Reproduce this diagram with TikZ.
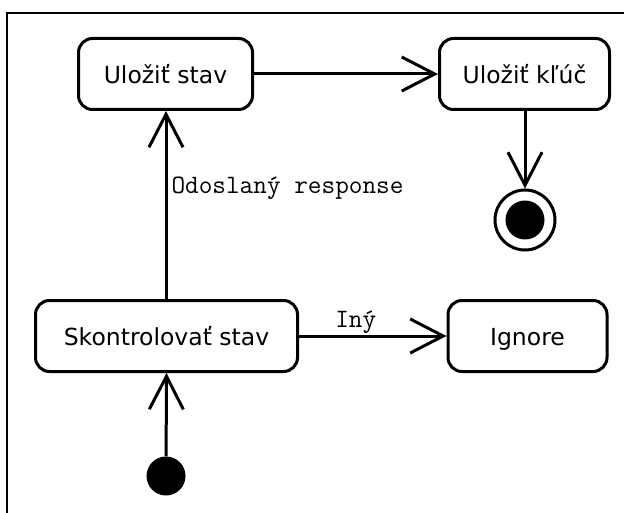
\documentclass[tikz,border=0pt]{standalone}
\usepackage{fontspec}
\setmainfont{DejaVu Sans}
\usetikzlibrary{arrows.meta}

\tikzset{
  state/.style={draw, line width=3pt, rounded corners=14pt, inner sep=0pt,
    minimum height=71pt, text height=19pt, text depth=0pt,
    font=\fontsize{23.5}{26}\selectfont, align=center},
  flow/.style={line width=3pt,
    -{Straight Barb[length=33pt, width=34pt, line width=3pt]}},
  guard/.style={font=\ttfamily\fontsize{26.5}{28}\selectfont, inner sep=0pt},
  startdot/.style={circle, fill=black, inner sep=0pt, minimum size=39pt},
  endring/.style={circle, draw, line width=3pt, inner sep=0pt, minimum size=60pt},
  enddot/.style={circle, fill=black, inner sep=0pt, minimum size=39pt},
}

\begin{document}
\begin{tikzpicture}[x=1pt, y=-1pt]
  \useasboundingbox[fill=white] (0,0) rectangle (624,513);

  % outer frame
  \draw[line width=2pt] (7,513) -- (7,13) -- (624,13);

  % states
  \node[state, minimum width=174pt] (save)   at (165.5,74)  {Uložiť stav};
  \node[state, minimum width=170pt] (key)    at (524.5,74)  {Uložiť kľúč};
  \node[state, minimum width=262pt] (check)  at (166.5,336) {Skontrolovať stav};
  \node[state, minimum width=159pt] (ignore) at (527.5,336) {Ignore};

  % pseudo states
  \node[startdot] (init) at (166,476) {};
  \node[endring] (final) at (525,220) {};
  \node[enddot] (finaldot) at (525,220) {};

  % transitions
  \draw[flow] (init) -- (check.south);
  \draw[flow] (check.north -| init) -- node[guard, pos=0.56, anchor=base west, xshift=4pt] {Odoslaný response} (save.south -| init);
  \draw[flow] (check.east) -- node[guard, pos=0.385, anchor=base, yshift=9pt] {Iný} (ignore.west);
  \draw[flow] (save.east) -- (key.west);
  \draw[flow] (key.south -| final) -- (final.north);
\end{tikzpicture}
\end{document}
